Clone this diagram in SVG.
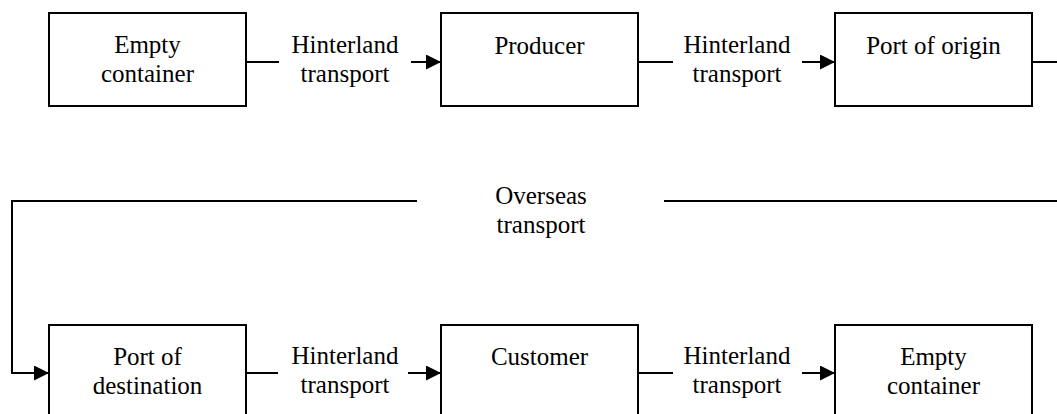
<svg xmlns="http://www.w3.org/2000/svg" width="1057" height="414" viewBox="0 0 1057 414">
<style>
.box{fill:#fff;stroke:#000;stroke-width:2}
.t{font-family:"Liberation Serif","Times New Roman",serif;font-size:25px;fill:#000;text-anchor:middle}
.c{fill:none;stroke:#000;stroke-width:2}
.a{marker-end:url(#ah)}
</style>
<defs>
<marker id="ah" markerUnits="userSpaceOnUse" markerWidth="16" markerHeight="16" refX="15" refY="7.5" orient="auto">
<path d="M0,0 L15,7.5 L0,15 z" fill="#000"/>
</marker>
</defs>
<rect width="1057" height="414" fill="#fff"/>
<g id="connectors">
<line class="c" x1="246" y1="62" x2="279" y2="62"/>
<line class="c a" x1="411" y1="62" x2="441" y2="62"/>
<line class="c" x1="638" y1="62" x2="673" y2="62"/>
<line class="c a" x1="802" y1="62" x2="835" y2="62"/>
<line class="c" x1="1032" y1="62" x2="1057" y2="62"/>
<polyline class="c" points="417,201 12,201 12,373 49,373" marker-end="url(#ah)"/>
<line class="c" x1="664" y1="201" x2="1057" y2="201"/>
<line class="c" x1="246" y1="373" x2="278" y2="373"/>
<line class="c a" x1="408" y1="373" x2="441" y2="373"/>
<line class="c" x1="638" y1="373" x2="673" y2="373"/>
<line class="c a" x1="802" y1="373" x2="835" y2="373"/>
<g id="labels">
<text class="t" x="345" y="53">Hinterland</text>
<text class="t" x="345" y="82">transport</text>
<text class="t" x="737" y="53">Hinterland</text>
<text class="t" x="737" y="82">transport</text>
<text class="t" x="541" y="204">Overseas</text>
<text class="t" x="541" y="233">transport</text>
<text class="t" x="345" y="364">Hinterland</text>
<text class="t" x="345" y="393">transport</text>
<text class="t" x="737" y="364">Hinterland</text>
<text class="t" x="737" y="393">transport</text>
</g>
</g>
<g id="empty-container-1">
<rect class="box" x="49" y="13" width="197" height="93"/>
<text class="t" x="147.5" y="53">Empty</text>
<text class="t" x="147.5" y="82">container</text>
</g>
<g id="producer">
<rect class="box" x="441" y="13" width="197" height="93"/>
<text class="t" x="539.5" y="54">Producer</text>
</g>
<g id="port-of-origin">
<rect class="box" x="835" y="13" width="197" height="93"/>
<text class="t" x="933.5" y="54">Port of origin</text>
</g>
<g id="port-of-destination">
<rect class="box" x="49" y="325" width="197" height="93"/>
<text class="t" x="147.5" y="365">Port of</text>
<text class="t" x="147.5" y="394">destination</text>
</g>
<g id="customer">
<rect class="box" x="441" y="325" width="197" height="93"/>
<text class="t" x="539.5" y="365">Customer</text>
</g>
<g id="empty-container-2">
<rect class="box" x="835" y="325" width="197" height="93"/>
<text class="t" x="933.5" y="365">Empty</text>
<text class="t" x="933.5" y="394">container</text>
</g>
</svg>
